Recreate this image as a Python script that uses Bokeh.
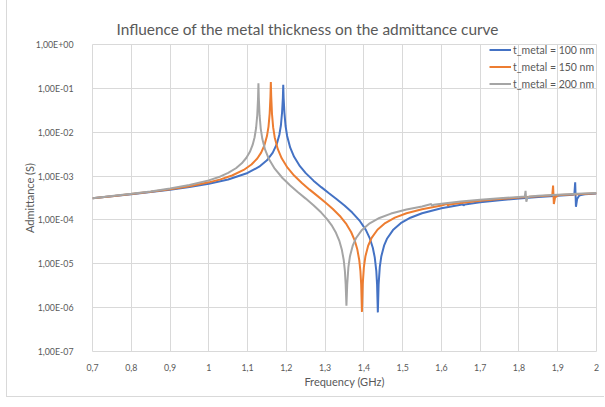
from bokeh.plotting import figure
from bokeh.models import FixedTicker, CustomJSTickFormatter, Legend, LegendItem
from bokeh.embed import file_html
from bokeh.resources import INLINE

title_text = "Influence of the metal thickness on the admittance curve"
x_label = "Frequency (GHz)"
y_label = "Admittance (S)"
series_names = ["t_metal = 100 nm", "t_metal = 150 nm", "t_metal = 200 nm"]
series_colors = ["#4472C4", "#ED7D31", "#A5A5A5"]

x_ticks = [0.7, 0.8, 0.9, 1.0, 1.1, 1.2, 1.3, 1.4, 1.5, 1.6, 1.7, 1.8, 1.9, 2.0]
x_tick_labels = ["0,7", "0,8", "0,9", "1", "1,1", "1,2", "1,3", "1,4", "1,5",
                 "1,6", "1,7", "1,8", "1,9", "2"]
y_ticks = [1e-7, 1e-6, 1e-5, 1e-4, 1e-3, 1e-2, 1e-1, 1e0]
y_tick_labels = ["1,00E-07", "1,00E-06", "1,00E-05", "1,00E-04", "1,00E-03",
                 "1,00E-02", "1,00E-01", "1,00E+00"]

# t_metal = 100 nm
freq_100 = [0.70, 0.75, 0.80, 0.85, 0.90, 0.95, 1.00, 1.05, 1.10, 1.13, 1.15, 1.165,
            1.175, 1.182, 1.186, 1.189, 1.191, 1.192, 1.193, 1.195, 1.198, 1.202,
            1.21, 1.22, 1.235, 1.25, 1.27, 1.29, 1.31, 1.33, 1.35, 1.37, 1.39,
            1.405, 1.415, 1.423, 1.428, 1.432, 1.434, 1.436, 1.438, 1.441, 1.445,
            1.452, 1.46, 1.475, 1.495, 1.52, 1.55, 1.6, 1.65, 1.655, 1.657, 1.66,
            1.7, 1.75, 1.8, 1.85, 1.9, 1.94, 1.943, 1.945, 1.947, 1.95, 1.955,
            1.96, 1.97, 2.0]
adm_100 = [3.130e-4, 3.470e-4, 3.858e-4, 4.318e-4, 4.885e-4, 5.628e-4, 6.683e-4,
           8.381e-4, 1.177e-3, 1.632e-3, 2.290e-3, 3.417e-3, 5.269e-3, 8.766e-3,
           1.443e-2, 2.856e-2, 6.0e-2, 1.2e-1, 6.0e-2, 2.80e-2, 1.386e-2, 8.206e-3,
           4.431e-3, 2.744e-3, 1.682e-3, 1.167e-3, 7.866e-4, 5.589e-4, 4.065e-4,
           2.967e-4, 2.133e-4, 1.473e-4, 9.359e-5, 5.923e-5, 3.860e-5, 2.319e-5,
           1.401e-5, 6.916e-6, 3.438e-6, 7.8e-7, 3.386e-6, 8.365e-6, 1.487e-5,
           2.585e-5, 3.780e-5, 5.874e-5, 8.408e-5, 1.1235e-4, 1.4232e-4, 1.8518e-4,
           2.2167e-4, 2.30e-4, 2.12e-4, 2.24e-4, 2.5368e-4, 2.8239e-4, 3.0863e-4,
           3.3295e-4, 3.5575e-4, 3.731e-4, 3.95e-4, 7.2e-4, 2.0e-4, 3.0e-4,
           3.55e-4, 3.72e-4, 3.85e-4, 3.979e-4]

# t_metal = 150 nm
freq_150 = [0.70, 0.75, 0.80, 0.85, 0.90, 0.95, 1.00, 1.03, 1.06, 1.09, 1.11, 1.125,
            1.135, 1.143, 1.150, 1.154, 1.157, 1.159, 1.160, 1.161, 1.163, 1.166,
            1.170, 1.178, 1.188, 1.203, 1.22, 1.24, 1.26, 1.28, 1.30, 1.32, 1.34,
            1.355, 1.367, 1.376, 1.383, 1.388, 1.391, 1.393, 1.395, 1.397, 1.400,
            1.404, 1.411, 1.42, 1.435, 1.455, 1.48, 1.51, 1.55, 1.6, 1.615, 1.617,
            1.62, 1.65, 1.7, 1.75, 1.8, 1.85, 1.88, 1.886, 1.888, 1.890, 1.893,
            1.898, 1.905, 1.95, 2.0]
adm_150 = [3.130e-4, 3.482e-4, 3.891e-4, 4.386e-4, 5.016e-4, 5.879e-4, 7.192e-4,
           8.414e-4, 1.0318e-3, 1.3782e-3, 1.8345e-3, 2.515e-3, 3.420e-3, 4.907e-3,
           8.155e-3, 1.3413e-2, 2.654e-2, 6.5e-2, 1.4e-1, 6.5e-2, 2.602e-2,
           1.2876e-2, 7.613e-3, 4.106e-3, 2.5386e-3, 1.5518e-3, 1.0273e-3, 6.930e-4,
           4.903e-4, 3.534e-4, 2.539e-4, 1.780e-4, 1.177e-4, 7.986e-5, 5.310e-5,
           3.474e-5, 2.136e-5, 1.223e-5, 6.916e-6, 3.437e-6, 8.0e-7, 3.383e-6,
           8.366e-6, 1.485e-5, 2.579e-5, 3.914e-5, 5.981e-5, 8.474e-5, 1.125e-4,
           1.4184e-4, 1.759e-4, 2.1255e-4, 2.33e-4, 2.11e-4, 2.25e-4, 2.4449e-4,
           2.730e-4, 2.990e-4, 3.2305e-4, 3.4557e-4, 3.585e-4, 3.75e-4, 6.1e-4,
           2.3e-4, 3.2e-4, 3.55e-4, 3.69e-4, 3.8715e-4, 4.066e-4]

# t_metal = 200 nm
freq_200 = [0.70, 0.75, 0.80, 0.85, 0.90, 0.95, 1.00, 1.03, 1.05, 1.07, 1.085, 1.097,
            1.106, 1.113, 1.118, 1.122, 1.125, 1.127, 1.128, 1.129, 1.131, 1.134,
            1.138, 1.145, 1.155, 1.17, 1.19, 1.21, 1.23, 1.25, 1.27, 1.29, 1.305,
            1.318, 1.328, 1.337, 1.343, 1.348, 1.351, 1.353, 1.355, 1.357, 1.36,
            1.364, 1.371, 1.38, 1.395, 1.415, 1.44, 1.47, 1.51, 1.55, 1.574, 1.576,
            1.58, 1.6, 1.65, 1.7, 1.75, 1.8, 1.815, 1.817, 1.819, 1.822, 1.828,
            1.85, 1.9, 1.95, 2.0]
adm_200 = [3.130e-4, 3.497e-4, 3.932e-4, 4.473e-4, 5.190e-4, 6.231e-4, 7.977e-4,
           9.810e-4, 1.1782e-3, 1.5076e-3, 1.952e-3, 2.615e-3, 3.583e-3, 5.139e-3,
           7.583e-3, 1.2466e-2, 2.468e-2, 6.0e-2, 1.3e-1, 6.0e-2, 2.413e-2,
           1.194e-2, 7.060e-3, 4.043e-3, 2.444e-3, 1.4717e-3, 9.037e-4, 6.100e-4,
           4.294e-4, 3.063e-4, 2.163e-4, 1.4714e-4, 1.0474e-4, 7.290e-5, 5.090e-5,
           3.268e-5, 2.126e-5, 1.217e-5, 6.880e-6, 3.411e-6, 1.1e-6, 3.357e-6,
           8.308e-6, 1.475e-5, 2.559e-5, 3.880e-5, 5.920e-5, 8.374e-5, 1.1096e-4,
           1.3968e-4, 1.7293e-4, 2.0191e-4, 2.30e-4, 2.08e-4, 2.22e-4, 2.338e-4,
           2.6213e-4, 2.8786e-4, 3.1159e-4, 3.3379e-4, 3.40e-4, 4.6e-4, 2.6e-4,
           3.25e-4, 3.42e-4, 3.5474e-4, 3.7472e-4, 3.9387e-4, 4.1236e-4]

FONT = "Lato"
TXT = "#595959"
GRID = "#D9D9D9"

p = figure(width=598, height=397, x_range=(0.7, 2.0), y_range=(1e-7, 1.0),
           y_axis_type="log", output_backend="svg", toolbar_location=None,
           min_border_left=85, min_border_right=9, min_border_top=44,
           min_border_bottom=46, title=title_text)
p.styles = {"margin-left": "6px", "border-left": "1px solid #D9D9D9",
            "border-bottom": "1px solid #D9D9D9"}

p.title.text_font = FONT
p.title.text_font_size = "15.4px"
p.title.text_font_style = "normal"
p.title.text_color = TXT
p.title.align = "left"
p.title.offset = 24
p.title.standoff = 14

p.background_fill_color = "white"
p.border_fill_color = "white"
p.outline_line_color = GRID

# axes
p.xaxis.ticker = FixedTicker(ticks=x_ticks)
p.yaxis.ticker = FixedTicker(ticks=y_ticks, minor_ticks=[])
p.xaxis.formatter = CustomJSTickFormatter(args=dict(tv=x_ticks, lv=x_tick_labels), code="""
let best = 0, bd = Infinity;
for (let i = 0; i < tv.length; i++) {
  const d = Math.abs(tv[i] - tick);
  if (d < bd) { bd = d; best = i; }
}
return lv[best];
""")
p.yaxis.formatter = CustomJSTickFormatter(args=dict(tv=y_ticks, lv=y_tick_labels), code="""
let best = 0, bd = Infinity;
for (let i = 0; i < tv.length; i++) {
  const d = Math.abs(Math.log10(tv[i]) - Math.log10(tick));
  if (d < bd) { bd = d; best = i; }
}
return lv[best];
""")
for ax in (p.xaxis[0], p.yaxis[0]):
    ax.axis_line_color = None
    ax.major_tick_line_color = None
    ax.minor_tick_line_color = None
    ax.major_label_text_font = FONT
    ax.major_label_text_font_size = "8.8px"
    ax.major_label_text_color = TXT
    ax.axis_label_text_font = FONT
    ax.axis_label_text_font_size = "11px"
    ax.axis_label_text_font_style = "normal"
    ax.axis_label_text_color = TXT
p.xaxis.axis_label = x_label
p.yaxis.axis_label = y_label
p.xaxis.major_label_standoff = 6
p.xaxis.axis_label_standoff = 1
p.yaxis.major_label_standoff = 13
p.yaxis.axis_label_standoff = -3

p.xgrid.ticker = FixedTicker(ticks=x_ticks)
p.ygrid.ticker = FixedTicker(ticks=y_ticks, minor_ticks=[])
p.xgrid.grid_line_color = GRID
p.ygrid.grid_line_color = GRID
p.ygrid.minor_grid_line_color = None

renderers = []
for fx, fy, col in ((freq_100, adm_100, series_colors[0]),
                    (freq_150, adm_150, series_colors[1]),
                    (freq_200, adm_200, series_colors[2])):
    renderers.append(p.line(fx, fy, line_color=col, line_width=2))

legend = Legend(items=[LegendItem(label=n, renderers=[r]) for n, r in zip(series_names, renderers)],
                location=(397, 259), glyph_width=22, glyph_height=17, label_height=17,
                label_standoff=2, padding=0, margin=0, spacing=0,
                background_fill_alpha=0, border_line_color=None,
                label_text_font=FONT, label_text_font_size="10.5px", label_text_color=TXT)
p.add_layout(legend)

open("out.html", "w").write(file_html(p, INLINE))
